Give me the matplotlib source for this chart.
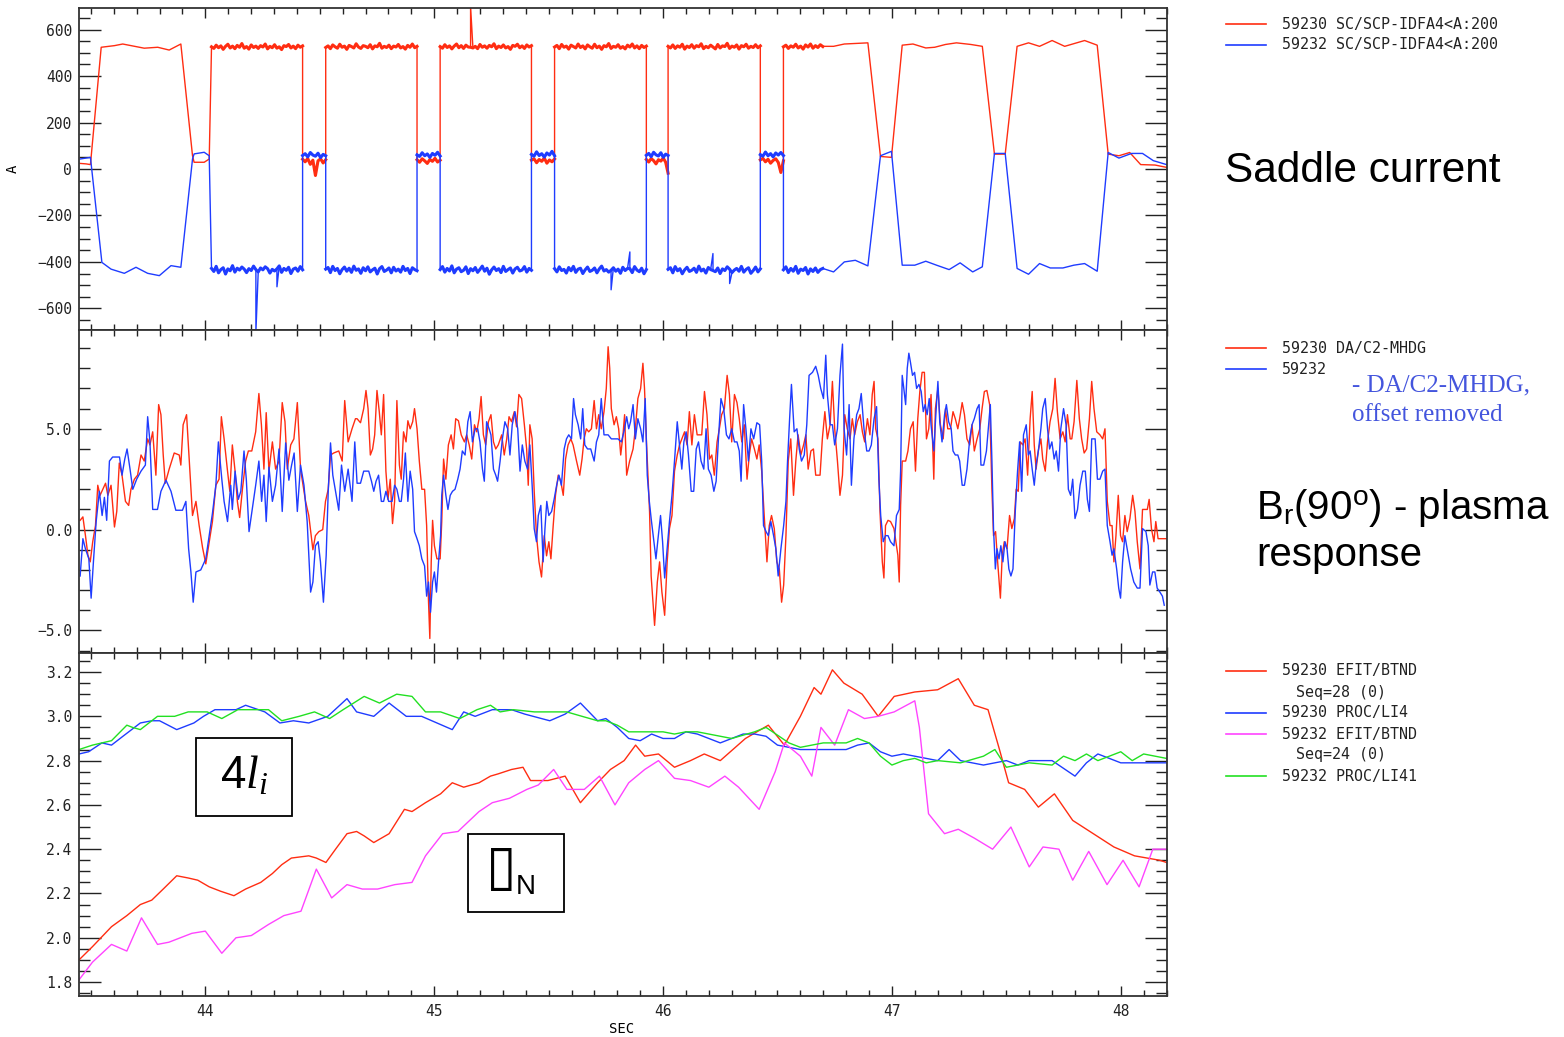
import numpy as np
import matplotlib.pyplot as plt
from matplotlib.lines import Line2D
from matplotlib.patches import Rectangle
from matplotlib.ticker import MultipleLocator

plt.rcParams['font.family'] = ['DejaVu Sans Mono']
plt.rcParams['mathtext.fontset'] = 'custom'
plt.rcParams['mathtext.rm'] = 'Liberation Sans'
plt.rcParams['mathtext.it'] = 'Liberation Serif:italic'

RED = '#ff2d12'
BLUE = '#1f3cff'
PINK = '#ff44ff'
GREEN = '#22e022'

# ---------------- saddle coil current (A) ----------------
# switching times of the square-wave part (on / off phases)
sc_edges = [44.027, 44.425, 44.526, 44.925, 45.026, 45.425, 45.526, 45.927,
            46.022, 46.425, 46.526, 46.698]

red_sc_head_t = [43.453, 43.479, 43.498, 43.545, 43.603, 43.639, 43.690, 43.733,
                 43.792, 43.842, 43.893, 43.944, 43.951, 43.995, 44.017]
red_sc_head = [24, 22, 19, 524, 531, 538, 528, 520, 524, 512, 538, 57, 29, 29, 43]
blue_sc_head_t = [43.453, 43.498, 43.548, 43.588, 43.646, 43.697, 43.748, 43.799,
                  43.850, 43.893, 43.944, 43.951, 43.995, 44.017]
blue_sc_head = [43, 50, -402, -431, -449, -423, -449, -459, -416, -423, 43, 65, 72, 57]

red_on1 = [526, 519, 533, 522, 530, 515, 528, 537, 521, 529, 518, 532, 524, 540, 520, 527,
           516, 534, 523, 529, 519, 531, 525, 538, 517, 528, 522, 535, 520, 526, 514, 531,
           527, 536, 521, 529, 518, 533, 524, 530]
red_off1 = [42, 31, 45, 20, 38, -28, 35, 44, 26, 40]
red_on2 = [523, 530, 518, 534, 526, 520, 537, 524, 529, 515, 532, 527, 521, 539, 525, 519,
           531, 528, 522, 535, 517, 530, 526, 541, 520, 528, 523, 533, 518, 529, 525, 536,
           521, 527, 516, 532, 524, 538, 522, 528]
red_off2 = [40, 29, 44, 35, 24, 41, 33, 46, 30, 38]
red_on3 = [527, 520, 535, 523, 530, 517, 529, 538, 522, 531, 519, 533, 525, 524, 521, 528,
           518, 536, 524, 530, 520, 532, 526, 539, 518, 529, 523, 534, 521, 527, 515, 532,
           528, 537, 522, 530, 519, 534, 525, 531]
red_off3 = [38, 44, 27, 41, 33, 47, 25, 39, 31, 43]
red_on4 = [525, 532, 518, 536, 524, 529, 516, 533, 527, 521, 538, 523, 530, 517, 534, 526,
           520, 537, 522, 529, 515, 531, 526, 540, 519, 528, 524, 535, 520, 527, 517, 533,
           525, 538, 521, 530, 518, 532, 523, 529]
red_off4 = [41, 30, 45, 36, 22, 40, 34, 47, 29, -18]
red_on5 = [528, 521, 534, 519, 530, 524, 537, 516, 529, 523, 535, 520, 531, 526, 539, 518,
           528, 522, 533, 525, 517, 536, 521, 530, 527, 541, 519, 529, 524, 534, 516, 531,
           526, 537, 520, 528, 523, 535, 522, 530]
red_off5 = [39, 46, 31, 42, 25, 37, 44, 28, -15, 35]
red_on6 = [526, 533, 519, 530, 524, 537, 521, 529, 516, 534, 525, 538, 520, 531, 523, 535, 527]

blue_on1 = [-428, -441, -419, -447, -433, -425, -452, -430, -438, -416, -444, -427, -435, -422,
            -431, -446, -429, -437, -418, -433, -443, -426, -434, -421, -429, -448, -432, -439,
            -430, -417, -445, -428, -436, -423, -450, -431, -426, -440, -420, -434]
blue_off1 = [58, 66, 52, 71, 60, 55, 68, 49, 63, 57]
blue_on2 = [-431, -424, -446, -419, -437, -428, -451, -433, -422, -440, -427, -445, -418, -436,
            -430, -449, -425, -438, -421, -443, -434, -427, -452, -429, -420, -441, -435, -426,
            -447, -423, -439, -431, -444, -419, -437, -428, -450, -425, -433, -438]
blue_off2 = [61, 54, 70, 57, 65, 50, 67, 59, 72, 56]
blue_on3 = [-433, -420, -444, -428, -439, -417, -447, -431, -425, -442, -436, -421, -450, -429,
            -438, -424, -445, -432, -418, -440, -427, -453, -434, -422, -437, -429, -446, -419,
            -441, -433, -426, -448, -430, -423, -439, -435, -420, -444, -428, -436]
blue_off3 = [63, 55, 74, 58, 66, 51, 69, 60, 76, 57]
blue_on4 = [-429, -443, -421, -437, -432, -448, -424, -438, -419, -445, -431, -427, -450, -434,
            -422, -441, -436, -426, -447, -430, -418, -439, -433, -444, -436, -425, -440, -431,
            -449, -423, -437, -428, -429, -446, -420, -435, -442, -427, -451, -433]
blue_off4 = [59, 67, 53, 72, 61, 56, 70, 50, 64, 58]
blue_on5 = [-432, -425, -447, -420, -438, -429, -451, -434, -423, -441, -436, -427, -445, -418,
            -439, -431, -448, -424, -433, -437, -442, -426, -450, -430, -437, -421, -431, -446,
            -435, -428, -440, -419, -444, -432, -425, -449, -437, -422, -443, -430]
blue_off5 = [62, 55, 73, 57, 66, 52, 69, 60, 71, 58]
blue_on6 = [-434, -421, -446, -428, -440, -419, -449, -431, -437, -424, -452, -430, -441, -426,
            -445, -433, -428]

# single-sample glitches on top of the square wave
red_glitch_t = [45.159]
red_glitch = [700]
blue_glitch_t = [44.221, 44.313, 45.773, 45.855, 46.218, 46.291]
blue_glitch = [-700, -507, -520, -357, -364, -493]

red_sc_tail_t = [46.698, 46.745, 46.792, 46.895, 46.950, 46.998, 47.045, 47.092, 47.148, 47.187,
                 47.234, 47.282, 47.345, 47.395, 47.448, 47.495, 47.547, 47.597, 47.645, 47.700,
                 47.755, 47.842, 47.897, 47.945, 47.992, 48.039, 48.087, 48.150, 48.200]
red_sc_tail = [528, 528, 538, 543, 54, 50, 533, 538, 521, 524, 536, 543, 536, 528, 64, 64,
               528, 543, 528, 553, 528, 553, 533, 64, 57, 71, 19, 17, 7]
blue_sc_tail_t = [46.698, 46.745, 46.792, 46.840, 46.895, 46.950, 46.998, 47.045, 47.100, 47.148,
                  47.195, 47.250, 47.298, 47.353, 47.395, 47.448, 47.495, 47.547, 47.597, 47.645,
                  47.692, 47.747, 47.795, 47.842, 47.897, 47.945, 47.992, 48.047, 48.095, 48.142,
                  48.200]
blue_sc_tail = [-428, -443, -400, -393, -417, 57, 76, -414, -414, -397, -414, -433, -404, -443,
                -421, 67, 67, -428, -453, -407, -426, -426, -414, -407, -440, 71, 47, 67, 67,
                36, 19]

# ---------------- Br(90) plasma response ----------------
br_red_t = [43.453, 43.465, 43.476, 43.487, 43.497, 43.508, 43.520, 43.530, 43.540, 43.552,
            43.564, 43.574, 43.588, 43.603, 43.613, 43.624, 43.636, 43.651, 43.665, 43.675,
            43.690, 43.704, 43.719, 43.733, 43.748, 43.758, 43.770, 43.784, 43.796, 43.806,
            43.816, 43.825, 43.842, 43.864, 43.886, 43.893, 43.903, 43.918, 43.930, 43.944,
            43.959, 43.973, 43.988, 44.002, 44.017, 44.031, 44.046, 44.060, 44.070, 44.082,
            44.097, 44.107, 44.118, 44.130, 44.140, 44.150, 44.162, 44.176, 44.188, 44.203,
            44.220, 44.234, 44.245, 44.256, 44.266, 44.278, 44.293, 44.307, 44.322, 44.336,
            44.348, 44.358, 44.373, 44.387, 44.402, 44.416, 44.438, 44.452, 44.470, 44.481,
            44.496, 44.513, 44.525, 44.537, 44.547, 44.561, 44.583, 44.598, 44.609, 44.624,
            44.641, 44.656,
            44.663, 44.678, 44.692, 44.702, 44.711, 44.721, 44.731, 44.740, 44.750, 44.760,
            44.769, 44.779, 44.789, 44.798, 44.808, 44.818, 44.827, 44.837, 44.848, 44.856,
            44.866, 44.877, 44.885, 44.895, 44.906, 44.914, 44.925, 44.935, 44.946, 44.958,
            44.967, 44.975, 44.981, 44.987, 44.993, 45.001, 45.012, 45.026, 45.033, 45.041,
            45.051, 45.062, 45.074, 45.084, 45.094, 45.106, 45.118, 45.132, 45.142, 45.153,
            45.164, 45.176, 45.186, 45.196, 45.205, 45.215, 45.225, 45.237, 45.248, 45.259,
            45.269, 45.280, 45.295, 45.306, 45.317, 45.327, 45.338, 45.350, 45.360, 45.370,
            45.382, 45.394, 45.404, 45.411, 45.418, 45.428, 45.437, 45.447, 45.458, 45.469,
            45.481, 45.491, 45.501, 45.510, 45.520, 45.530, 45.542, 45.553, 45.564, 45.574,
            45.585, 45.597, 45.607, 45.622, 45.636, 45.646, 45.655, 45.665, 45.675, 45.687,
            45.699, 45.709, 45.719, 45.730, 45.742, 45.752, 45.760, 45.767, 45.774, 45.786,
            45.796, 45.806, 45.815, 45.825, 45.832,
            45.841, 45.854, 45.869, 45.879, 45.890, 45.902, 45.912, 45.919, 45.927, 45.934,
            45.941, 45.948, 45.956, 45.963, 45.975, 45.985, 45.995, 46.007, 46.018, 46.028,
            46.039, 46.050, 46.062, 46.072, 46.082, 46.094, 46.105, 46.115, 46.126, 46.137,
            46.149, 46.159, 46.169, 46.181, 46.192, 46.203, 46.213, 46.224, 46.236, 46.246,
            46.256, 46.268, 46.280, 46.290, 46.300, 46.312, 46.323, 46.333, 46.344, 46.355,
            46.367, 46.377, 46.387, 46.399, 46.410, 46.420, 46.431, 46.442, 46.454, 46.464,
            46.474, 46.486, 46.497, 46.508, 46.518, 46.527, 46.537, 46.547, 46.558, 46.570,
            46.580, 46.590, 46.602, 46.614, 46.624, 46.634, 46.646, 46.657, 46.667, 46.678,
            46.686, 46.696, 46.707, 46.718, 46.730, 46.740, 46.750, 46.762, 46.773, 46.784,
            46.794, 46.805, 46.817, 46.827, 46.837, 46.849, 46.861, 46.871, 46.881, 46.893,
            46.904, 46.914, 46.922, 46.929, 46.939, 46.948, 46.958, 46.965, 46.972, 46.983,
            46.994, 47.009,
            47.026, 47.032, 47.038, 47.045, 47.060, 47.070, 47.081, 47.093, 47.103, 47.113,
            47.122, 47.132, 47.142, 47.151, 47.161, 47.171, 47.183, 47.190, 47.201, 47.212,
            47.224, 47.234, 47.244, 47.256, 47.267, 47.277, 47.288, 47.296, 47.307, 47.317,
            47.328, 47.340, 47.350, 47.360, 47.372, 47.384, 47.394, 47.404, 47.415, 47.427,
            47.437, 47.444, 47.453, 47.462, 47.474, 47.482, 47.491, 47.503, 47.514, 47.524,
            47.535, 47.543, 47.552, 47.561, 47.572, 47.582, 47.593, 47.604, 47.613, 47.622,
            47.630, 47.641, 47.651, 47.659, 47.670, 47.680, 47.691, 47.703, 47.713, 47.723,
            47.735, 47.747, 47.757, 47.767, 47.779, 47.786, 47.796, 47.808, 47.819, 47.829,
            47.840, 47.851, 47.863, 47.873, 47.883, 47.895, 47.909, 47.921, 47.931, 47.941,
            47.953, 47.962, 47.970, 47.979, 47.989, 47.999, 48.008, 48.018, 48.028, 48.040,
            48.052, 48.062, 48.072, 48.084, 48.095, 48.105, 48.116, 48.124, 48.134, 48.145,
            48.153, 48.163, 48.185, 48.198]
br_red = [0.46, 0.63, -0.28, -1.27, -1.6, -0.6, 0.2, 2.2, 1.7, 2.0,
          2.3, 1.7, 2.2, 0.13, 0.9, 3.3, 2.7, 1.4, 1.2, 2.0,
          2.5, 2.7, 3.7, 3.4, 4.5, 4.2, 4.85, 2.7, 6.2, 5.7,
          3.7, 2.3, 3.0, 3.8, 3.7, 3.2, 5.2, 5.7, 3.4, 0.7,
          1.4, 0.2, -0.9, -1.7, -0.6, 0.4, 2.2, 2.5, 5.6, 4.5,
          2.9, 1.9, 4.2, 2.9, 1.4, 0.6, 2.0, 3.4, 3.9, 3.9,
          4.85, 6.75, 5.2, 3.0, 5.8, 2.9, 4.35, 3.0, 3.4, 6.3,
          5.35, 3.0, 4.2, 4.5, 6.3, 3.0, 1.4, 0.7, -1.0, -0.3,
          -0.1, 0.0, 1.4, 2.0, 3.7, 3.8, 3.9, 3.4, 6.4, 4.35,
          5.0, 5.5,
          5.5, 5.3, 6.0, 6.9, 6.0, 3.7, 4.0, 4.7, 6.9, 5.85,
          4.7, 6.7, 2.9, 1.5, 2.5, 0.3, 1.4, 6.4, 3.2, 2.5,
          4.85, 4.35, 5.4, 5.0, 5.35, 6.0, 5.0, 3.4, 2.0, 2.0,
          0.2, -3.5, -5.4, -1.6, 0.46, -0.8, -1.45, -1.45, 0.4, 3.5,
          2.5, 4.2, 4.7, 4.0, 5.5, 5.4, 4.7, 4.35, 4.7, 4.2,
          3.5, 5.2, 4.85, 5.5, 6.6, 4.7, 4.2, 5.35, 5.7, 4.35,
          4.0, 4.2, 4.7, 3.7, 4.5, 5.6, 5.35, 5.85, 5.1, 6.7,
          6.5, 5.2, 4.0, 2.2, 5.2, 4.5, 1.9, -0.3, -1.6, -2.35,
          -0.3, -1.3, -0.6, -1.45, 0.2, 1.7, 2.7, 2.4, 1.7, 3.5,
          4.2, 4.5, 4.2, 3.4, 2.7, 3.5, 4.5, 5.0, 4.85, 5.0,
          6.4, 5.0, 5.7, 5.0, 5.85, 7.0, 9.07, 8.0, 6.0, 5.2,
          5.6, 5.0, 3.7, 4.7, 5.7,
          2.7, 3.4, 4.0, 5.0, 6.5, 7.0, 8.25, 7.0, 4.5, 2.7,
          0.9, -2.3, -3.6, -4.75, -2.6, -1.6, -3.1, -4.25, -1.6, 0.05,
          0.7, 2.9, 3.7, 4.2, 4.5, 4.85, 4.2, 5.85, 4.2, 5.7,
          4.7, 4.7, 4.7, 6.85, 5.7, 3.5, 3.7, 2.7, 4.35, 5.0,
          5.7, 6.0, 7.65, 6.7, 4.35, 6.7, 6.3, 5.5, 4.35, 5.2,
          2.5, 3.7, 4.5, 4.0, 3.5, 4.2, 2.9, 0.7, -1.6, 0.2,
          0.7, 0.05, -1.6, -1.95, -3.6, -2.75, -0.3, 3.4, 4.5, 1.7,
          3.4, 4.7, 3.7, 4.2, 4.7, 3.0, 3.9, 4.0, 2.7, 2.7,
          2.7, 4.5, 5.85, 4.5, 5.2, 7.35, 5.0, 3.4, 1.7, 2.7,
          5.7, 5.0, 4.5, 5.5, 4.7, 5.35, 5.7, 4.85, 4.35, 5.5,
          4.7, 6.7, 7.35, 5.0, 4.5, 0.9, -1.6, -2.4, 0.2, 0.46,
          0.4, 0.05,
          -1.27, -2.6, 1.2, 3.4, 3.4, 3.9, 5.0, 5.35, 2.9, 5.5,
          6.85, 7.8, 7.8, 4.5, 5.0, 6.7, 2.5, 6.0, 7.0, 5.2,
          4.5, 6.0, 5.0, 5.0, 5.85, 5.5, 5.0, 5.5, 6.3, 5.7,
          4.5, 4.2, 5.2, 3.9, 4.5, 5.0, 6.0, 6.85, 6.9, 6.2,
          2.0, -0.3, -0.1, -1.6, -3.4, -1.27, -0.6, -0.95, 0.7, 0.05,
          0.55, 2.0, 1.9, 4.35, 4.2, 4.5, 2.7, 5.5, 6.85, 4.2,
          3.0, 4.0, 4.5, 3.5, 2.9, 4.35, 5.35, 6.0, 7.5, 5.85,
          4.5, 4.85, 4.35, 5.7, 4.5, 4.5, 5.35, 7.4, 5.5, 4.5,
          3.8, 4.0, 5.5, 7.35, 6.0, 4.85, 4.7, 4.5, 5.0, 1.4,
          0.2, 0.2, -1.6, -0.3, 1.7, -0.3, -0.6, 0.7, -0.1, 0.55,
          1.7, 0.9, -0.6, -1.95, 1.0, 1.0, 1.0, 1.5, 0.05, -0.6,
          0.4, -0.45, -0.45, -0.45]

br_blue_t = [43.453, 43.465, 43.476, 43.491, 43.501, 43.511, 43.523, 43.537, 43.549, 43.559,
             43.569, 43.581, 43.595, 43.625, 43.636, 43.648, 43.658, 43.671, 43.683, 43.700,
             43.719, 43.738, 43.748, 43.758, 43.770, 43.791, 43.806, 43.828, 43.850, 43.871,
             43.900, 43.915, 43.927, 43.937, 43.947, 43.959, 43.980, 44.002, 44.017, 44.031,
             44.046, 44.057, 44.072, 44.082, 44.097, 44.111, 44.118, 44.130, 44.144, 44.155,
             44.169, 44.179, 44.191, 44.205, 44.220, 44.234, 44.246, 44.256, 44.266, 44.278,
             44.293, 44.307, 44.322, 44.336, 44.351, 44.365, 44.377, 44.388, 44.402, 44.416,
             44.431, 44.445, 44.460, 44.470, 44.481, 44.493, 44.503, 44.516, 44.528, 44.537,
             44.547, 44.557, 44.569, 44.583, 44.595, 44.609, 44.624, 44.641, 44.653,
             44.663, 44.678, 44.692, 44.714, 44.726, 44.736, 44.746, 44.757, 44.769, 44.779,
             44.789, 44.801, 44.816, 44.827, 44.837, 44.848, 44.856, 44.866, 44.874, 44.885,
             44.895, 44.906, 44.914, 44.925, 44.935, 44.946, 44.958, 44.967, 44.975, 44.984,
             44.993, 45.001, 45.010, 45.019, 45.028, 45.033, 45.041, 45.051, 45.060, 45.070,
             45.080, 45.091, 45.103, 45.113, 45.123, 45.135, 45.147, 45.157, 45.167, 45.179,
             45.190, 45.200, 45.211, 45.219, 45.229, 45.240, 45.248, 45.259, 45.269, 45.277,
             45.288, 45.298, 45.309, 45.321, 45.331, 45.341, 45.353, 45.365, 45.375, 45.385,
             45.396, 45.408, 45.418, 45.428, 45.437, 45.447, 45.455, 45.466, 45.476, 45.484,
             45.492, 45.501, 45.513, 45.524, 45.535, 45.545, 45.556, 45.568, 45.578, 45.588,
             45.600, 45.609, 45.617, 45.629, 45.640, 45.649, 45.658, 45.670, 45.684, 45.699,
             45.709, 45.719, 45.730, 45.742, 45.760, 45.774, 45.789, 45.803, 45.818, 45.832,
             45.841, 45.850, 45.858, 45.869, 45.879, 45.890, 45.902, 45.912, 45.922, 45.931,
             45.940, 45.948, 45.960, 45.969, 45.978, 45.989, 45.998, 46.007, 46.018, 46.028,
             46.039, 46.050, 46.062, 46.072, 46.082, 46.091, 46.101, 46.111, 46.123, 46.134,
             46.145, 46.155, 46.166, 46.178, 46.188, 46.198, 46.210, 46.222, 46.232, 46.242,
             46.253, 46.265, 46.277, 46.288, 46.300, 46.312, 46.323, 46.333, 46.341, 46.352,
             46.362, 46.373, 46.384, 46.396, 46.410, 46.422, 46.431, 46.439, 46.450, 46.460,
             46.471, 46.483, 46.493, 46.503, 46.515, 46.527, 46.537, 46.544, 46.553, 46.561,
             46.573, 46.585, 46.595, 46.605, 46.617, 46.628, 46.638, 46.653, 46.667, 46.678,
             46.689, 46.701, 46.711, 46.718, 46.730, 46.740, 46.750, 46.762, 46.773, 46.784,
             46.791, 46.802, 46.813, 46.823, 46.834, 46.846, 46.856, 46.866, 46.878, 46.890,
             46.900, 46.910, 46.922, 46.933, 46.943, 46.951, 46.962, 46.972, 46.983, 46.994,
             47.009,
             47.020, 47.032, 47.038, 47.045, 47.052, 47.060, 47.067, 47.074, 47.081, 47.090,
             47.099, 47.108, 47.118, 47.128, 47.137, 47.145, 47.154, 47.163, 47.171, 47.183,
             47.192, 47.201, 47.209, 47.219, 47.230, 47.238, 47.248, 47.259, 47.267, 47.277,
             47.288, 47.296, 47.307, 47.317, 47.328, 47.340, 47.350, 47.360, 47.372, 47.381,
             47.389, 47.401, 47.413, 47.421, 47.430, 47.437, 47.444, 47.452, 47.459, 47.468,
             47.476, 47.485, 47.494, 47.503, 47.511, 47.520, 47.529, 47.539, 47.549, 47.558,
             47.567, 47.575, 47.587, 47.596, 47.604, 47.613, 47.622, 47.630, 47.641, 47.651,
             47.659, 47.670, 47.680, 47.689, 47.699, 47.709, 47.718, 47.728, 47.738, 47.750,
             47.761, 47.771, 47.781, 47.790, 47.800, 47.811, 47.822, 47.834, 47.845, 47.854,
             47.863, 47.873, 47.888, 47.898, 47.909, 47.921, 47.931, 47.941, 47.953, 47.962,
             47.970, 47.982, 47.991, 47.999, 48.008, 48.018, 48.028, 48.043, 48.057, 48.072,
             48.084, 48.095, 48.110, 48.120, 48.127, 48.139, 48.149, 48.159, 48.171, 48.182,
             48.190]
br_blue = [-2.3, -0.45, -0.95, -1.45, -3.4, -1.6, 0.4, 1.9, 0.7, 1.6,
           0.46, 3.4, 3.6, 3.6, 2.7, 3.5, 4.0, 3.0, 2.0, 2.5,
           2.9, 3.2, 5.6, 4.35, 1.0, 1.0, 1.9, 2.45, 1.9, 0.96,
           0.96, 1.4, -0.95, -2.1, -3.6, -2.1, -2.0, -1.45, -0.3, 0.8,
           2.2, 4.35, 2.5, 1.4, 0.4, 2.2, 1.0, 2.9, 1.5, 1.9,
           3.9, 2.5, -0.1, 1.0, 2.2, 3.4, 1.4, 2.7, 0.4, 3.1,
           1.4, 2.2, 4.0, 0.9, 4.3, 2.45, 3.2, 3.8, 0.9, 3.2,
           2.2, 0.4, -3.1, -2.6, -0.8, -0.6, -1.6, -3.6, -1.3, 1.9,
           4.3, 2.7, 1.9, 0.96, 3.2, 1.9, 3.0, 1.4, 4.35,
           2.3, 2.3, 2.9, 2.9, 2.4, 1.9, 2.4, 2.7, 1.4, 1.4,
           1.9, 1.4, 1.4, 2.2, 2.0, 1.4, 1.4, 2.5, 3.8, 1.4,
           2.9, 2.0, -0.1, -0.45, -0.8, -1.45, -1.8, -3.3, -2.6, -4.1,
           -2.6, -2.1, -3.1, -1.6, -0.3, 1.7, 2.7, 1.7, 1.0, 1.7,
           1.9, 2.0, 2.5, 3.0, 3.9, 3.7, 5.35, 5.85, 4.35, 5.0,
           5.0, 4.35, 3.0, 2.4, 5.35, 5.0, 4.7, 3.0, 2.7, 2.4,
           3.4, 4.5, 5.35, 5.0, 3.7, 5.2, 5.85, 5.0, 2.9, 4.2,
           3.4, 3.0, 4.2, 2.2, 0.05, -0.6, 0.7, 1.2, -1.6, 0.05,
           1.4, 0.7, 0.9, 1.5, 2.2, 2.7, 2.2, 4.0, 4.5, 4.7,
           4.5, 6.5, 5.7, 5.2, 4.5, 6.0, 4.2, 4.0, 4.0, 3.4,
           4.35, 4.7, 6.5, 4.7, 4.7, 4.5, 4.5, 4.5, 4.35, 5.0,
           5.6, 5.0, 5.35, 6.2, 4.5, 5.5, 5.0, 4.35, 6.5, 2.7,
           1.4, 0.55, -0.6, -1.45, -0.45, 0.7, -0.6, -2.4, -0.95, 0.4,
           1.7, 3.4, 5.35, 4.2, 3.0, 4.35, 4.85, 3.7, 1.9, 1.9,
           4.0, 4.35, 3.4, 3.0, 5.0, 3.0, 2.7, 1.9, 2.4, 4.5,
           6.5, 6.0, 4.7, 4.5, 5.0, 4.35, 4.35, 3.9, 2.4, 6.2,
           5.0, 3.4, 5.0, 4.5, 5.3, 5.2, 3.4, 0.2, -0.1, -0.3,
           0.4, -0.3, -0.95, -2.3, -0.95, 0.2, 1.4, 3.4, 5.5, 7.2,
           4.85, 5.0, 4.0, 3.4, 3.7, 5.2, 7.65, 7.8, 8.1, 7.65,
           7.0, 6.5, 8.65, 6.7, 5.2, 5.2, 4.2, 5.0, 7.65, 9.2,
           5.0, 3.7, 6.2, 2.2, 4.5, 5.7, 6.0, 6.75, 5.0, 3.9,
           3.9, 4.2, 5.5, 6.1, 2.5, 0.7, -0.6, -0.3, -0.3, -0.6,
           -0.8,
           0.7, 1.0, 2.9, 7.65, 7.0, 6.2, 8.0, 8.75, 8.3, 7.65,
           7.8, 7.0, 7.2, 6.85, 5.85, 6.2, 5.7, 6.5, 5.2, 3.9,
           5.7, 7.35, 5.35, 4.35, 5.7, 6.2, 5.35, 5.0, 3.9, 3.7,
           3.7, 3.4, 2.2, 2.2, 3.0, 4.5, 5.2, 5.5, 6.0, 6.2,
           3.2, 3.2, 3.9, 5.0, 6.2, 3.4, 0.05, -1.95, -0.95, -1.45,
           -0.8, -1.6, -0.6, -0.95, -1.95, -2.3, -1.95, 0.9, 2.9, 4.35,
           1.9, 4.7, 5.2, 3.7, 3.9, 3.0, 2.2, 3.2, 4.0, 5.0,
           6.0, 6.5, 5.0, 4.0, 4.35, 3.5, 3.9, 2.9, 5.0, 6.0,
           5.2, 2.0, 1.7, 2.5, 0.55, 1.0, 2.2, 2.9, 2.9, 1.5,
           0.9, 4.5, 4.5, 2.5, 2.5, 2.9, 3.0, 0.2, -0.6, -1.27,
           -0.95, -1.95, -2.9, -3.4, -1.6, -0.3, -0.95, -1.95, -2.6, -2.9,
           -2.9, 0.05, -0.1, -0.8, -2.75, -2.1, -2.1, -2.9, -3.1, -3.3,
           -3.75]

# ---------------- beta_N and 4 li ----------------
bn_red_t = [43.448, 43.507, 43.590, 43.657, 43.716, 43.766, 43.816, 43.875, 43.925, 43.967,
            44.017, 44.067, 44.125, 44.176, 44.242, 44.293, 44.334, 44.376, 44.452, 44.485,
            44.527, 44.569, 44.619, 44.661, 44.694, 44.736, 44.803, 44.870, 44.903, 44.962,
            45.028, 45.079, 45.129, 45.196, 45.246, 45.279, 45.338, 45.388, 45.421, 45.497,
            45.572, 45.639, 45.714, 45.77, 45.83, 45.88, 45.92, 45.98, 46.05, 46.12,
            46.18, 46.25, 46.36, 46.46, 46.53, 46.60, 46.66, 46.69, 46.74, 46.79,
            46.87, 46.94, 47.01, 47.10, 47.20, 47.29, 47.36, 47.42, 47.47, 47.51,
            47.58, 47.64, 47.71, 47.79, 47.88, 47.97, 48.06, 48.17, 48.20]
bn_red = [1.90, 1.96, 2.05, 2.10, 2.15, 2.17, 2.22, 2.28, 2.27, 2.26,
          2.23, 2.21, 2.19, 2.22, 2.25, 2.29, 2.33, 2.36, 2.37, 2.36,
          2.34, 2.40, 2.47, 2.48, 2.46, 2.43, 2.47, 2.58, 2.57, 2.61,
          2.65, 2.70, 2.68, 2.70, 2.73, 2.74, 2.76, 2.77, 2.71, 2.71,
          2.73, 2.61, 2.70, 2.76, 2.80, 2.87, 2.82, 2.83, 2.77, 2.80,
          2.83, 2.80, 2.90, 2.96, 2.87, 3.00, 3.13, 3.10, 3.21, 3.15,
          3.10, 3.00, 3.09, 3.11, 3.12, 3.17, 3.05, 3.03, 2.85, 2.70,
          2.67, 2.59, 2.65, 2.53, 2.47, 2.41, 2.37, 2.35, 2.34]

li_blue_t = [43.448, 43.49, 43.548, 43.59, 43.64, 43.716, 43.766, 43.80, 43.875, 43.95,
             43.992, 44.042, 44.134, 44.176, 44.26, 44.326, 44.385, 44.452, 44.535, 44.619,
             44.661, 44.736, 44.803, 44.878, 44.945, 45.079, 45.129, 45.179, 45.254, 45.338,
             45.396, 45.505, 45.572, 45.639, 45.714, 45.75, 45.80, 45.85, 45.90, 45.95,
             46.00, 46.05, 46.10, 46.15, 46.20, 46.25, 46.30, 46.35, 46.40, 46.45,
             46.50, 46.60, 46.70, 46.80, 46.85, 46.90, 46.95, 47.00, 47.05, 47.10,
             47.20, 47.25, 47.30, 47.40, 47.45, 47.50, 47.55, 47.60, 47.70, 47.80,
             47.85, 47.90, 48.00, 48.10, 48.20]
li_blue = [2.83, 2.84, 2.88, 2.87, 2.91, 2.97, 2.98, 2.98, 2.94, 2.97,
           3.00, 3.03, 3.03, 3.05, 3.02, 2.97, 2.98, 2.97, 3.00, 3.08,
           3.02, 3.00, 3.06, 3.00, 3.00, 2.94, 3.02, 3.00, 3.03, 3.03,
           3.01, 2.98, 3.01, 3.06, 2.98, 2.99, 2.95, 2.90, 2.89, 2.92,
           2.90, 2.90, 2.93, 2.92, 2.90, 2.88, 2.90, 2.92, 2.92, 2.91,
           2.87, 2.85, 2.85, 2.85, 2.87, 2.88, 2.84, 2.82, 2.83, 2.82,
           2.80, 2.85, 2.80, 2.78, 2.79, 2.80, 2.78, 2.80, 2.80, 2.73,
           2.79, 2.83, 2.79, 2.79, 2.79]

bn_pink_t = [43.448, 43.507, 43.590, 43.657, 43.721, 43.791, 43.841, 43.891, 43.941, 44.000,
             44.072, 44.134, 44.201, 44.276, 44.343, 44.418, 44.485, 44.552, 44.619, 44.686,
             44.753, 44.828, 44.903, 44.962, 45.037, 45.104, 45.196, 45.254, 45.329, 45.405,
             45.455, 45.522, 45.580, 45.656, 45.722, 45.79, 45.85, 45.92, 45.98, 46.05,
             46.12, 46.20, 46.27, 46.33, 46.42, 46.49, 46.53, 46.60, 46.65, 46.69,
             46.75, 46.81, 46.88, 46.94, 47.01, 47.10, 47.12, 47.16, 47.23, 47.29,
             47.36, 47.44, 47.52, 47.60, 47.66, 47.73, 47.79, 47.86, 47.94, 48.01,
             48.08, 48.14, 48.20]
bn_pink = [1.81, 1.89, 1.97, 1.94, 2.09, 1.97, 1.98, 2.00, 2.02, 2.03,
           1.93, 2.00, 2.01, 2.06, 2.10, 2.12, 2.31, 2.18, 2.24, 2.22,
           2.22, 2.24, 2.25, 2.37, 2.47, 2.48, 2.57, 2.61, 2.63, 2.67,
           2.69, 2.76, 2.67, 2.67, 2.73, 2.60, 2.70, 2.76, 2.80, 2.72,
           2.71, 2.68, 2.73, 2.68, 2.58, 2.75, 2.88, 2.82, 2.73, 2.95,
           2.87, 3.03, 2.99, 3.00, 3.02, 3.07, 2.95, 2.56, 2.47, 2.49,
           2.45, 2.40, 2.50, 2.32, 2.41, 2.40, 2.26, 2.39, 2.24, 2.35,
           2.23, 2.40, 2.40]

li_green_t = [43.448, 43.507, 43.59, 43.657, 43.682, 43.716, 43.791, 43.866, 43.925, 44.008,
              44.072, 44.142, 44.209, 44.276, 44.334, 44.41, 44.477, 44.543, 44.602, 44.694,
              44.761, 44.836, 44.903, 44.962, 45.028, 45.112, 45.187, 45.246, 45.288, 45.346,
              45.438, 45.512, 45.579, 45.646, 45.714, 45.75, 45.80, 45.85, 45.90, 46.00,
              46.05, 46.10, 46.15, 46.20, 46.30, 46.40, 46.45, 46.55, 46.60, 46.70,
              46.80, 46.85, 46.90, 46.95, 47.00, 47.05, 47.10, 47.15, 47.20, 47.30,
              47.40, 47.45, 47.50, 47.60, 47.70, 47.75, 47.80, 47.85, 47.90, 48.00,
              48.05, 48.10, 48.20]
li_green = [2.85, 2.87, 2.89, 2.96, 2.95, 2.94, 3.00, 3.00, 3.02, 3.02,
            2.99, 3.03, 3.03, 3.03, 2.98, 3.00, 3.02, 2.99, 3.03, 3.09,
            3.06, 3.10, 3.09, 3.02, 3.02, 2.99, 3.03, 3.05, 3.02, 3.03,
            3.02, 3.02, 3.02, 3.00, 2.98, 2.98, 2.96, 2.93, 2.93, 2.93,
            2.92, 2.93, 2.93, 2.92, 2.90, 2.93, 2.95, 2.88, 2.86, 2.88,
            2.88, 2.90, 2.88, 2.82, 2.78, 2.80, 2.81, 2.79, 2.80, 2.79,
            2.82, 2.85, 2.77, 2.79, 2.78, 2.82, 2.80, 2.83, 2.80, 2.84,
            2.80, 2.83, 2.81]

red_blocks = [red_on1, red_off1, red_on2, red_off2, red_on3, red_off3,
              red_on4, red_off4, red_on5, red_off5, red_on6]
blue_blocks = [blue_on1, blue_off1, blue_on2, blue_off2, blue_on3, blue_off3,
               blue_on4, blue_off4, blue_on5, blue_off5, blue_on6]


def block_times(i, blk):
    return np.linspace(sc_edges[i], sc_edges[i + 1], len(blk))


def stitch(head_t, head_v, blocks, tail_t, tail_v, glitch_t, glitch_v):
    # join the slow parts, the fast-sampled square-wave blocks and the glitches
    t = [np.array(head_t)]
    v = [np.array(head_v, dtype=float)]
    for i, blk in enumerate(blocks):
        t.append(block_times(i, blk))
        v.append(np.array(blk, dtype=float))
    t += [np.array(tail_t), np.array(glitch_t)]
    v += [np.array(tail_v, dtype=float), np.array(glitch_v, dtype=float)]
    t, v = np.concatenate(t), np.concatenate(v)
    order = np.argsort(t, kind='stable')
    return t[order], v[order]


red_sc_t, red_sc = stitch(red_sc_head_t, red_sc_head, red_blocks, red_sc_tail_t, red_sc_tail,
                          red_glitch_t, red_glitch)
blue_sc_t, blue_sc = stitch(blue_sc_head_t, blue_sc_head, blue_blocks, blue_sc_tail_t,
                            blue_sc_tail, blue_glitch_t, blue_glitch)

W, H = 1564, 1037
fig = plt.figure(figsize=(W / 100, H / 100), dpi=100)

left, width = 79 / W, 1088 / W
ax1 = fig.add_axes([left, 1 - 330 / H, width, 322 / H])
ax2 = fig.add_axes([left, 1 - 653 / H, width, 323 / H], sharex=ax1)
ax3 = fig.add_axes([left, 1 - 996 / H, width, 343 / H], sharex=ax1)

ax1.plot(red_sc_t, red_sc, color=RED, lw=1.0)
for i, blk in enumerate(red_blocks):
    # fast sampled stretches show up as a thick noisy band
    ax1.plot(block_times(i, blk), blk, color=RED, lw=2.2)
ax1.plot(blue_sc_t, blue_sc, color=BLUE, lw=1.0)
for i, blk in enumerate(blue_blocks):
    ax1.plot(block_times(i, blk), blk, color=BLUE, lw=2.2)
ax1.set_ylim(-693, 693)
ax1.yaxis.set_major_locator(MultipleLocator(200))
ax1.yaxis.set_minor_locator(MultipleLocator(50))
ax1.set_ylabel('A', fontsize=10)
ax1.yaxis.set_label_coords(-0.054, 0.5)

ax2.plot(br_red_t, br_red, color=RED, lw=1.0)
ax2.plot(br_blue_t, br_blue, color=BLUE, lw=1.0)
ax2.set_ylim(-6.12, 9.9)
ax2.yaxis.set_major_locator(MultipleLocator(5))
ax2.yaxis.set_minor_locator(MultipleLocator(1))
ax2.yaxis.set_major_formatter('{x:.1f}')

ax3.plot(bn_red_t, bn_red, color=RED, lw=1.0)
ax3.plot(li_blue_t, li_blue, color=BLUE, lw=1.0)
ax3.plot(bn_pink_t, bn_pink, color=PINK, lw=1.0)
ax3.plot(li_green_t, li_green, color=GREEN, lw=1.0)
ax3.set_ylim(1.737, 3.286)
ax3.yaxis.set_major_locator(MultipleLocator(0.2))
ax3.yaxis.set_minor_locator(MultipleLocator(0.05))
ax3.yaxis.set_major_formatter('{x:.1f}')
ax3.set_xlabel('SEC', fontsize=10)
ax3.xaxis.set_label_coords(0.499, -0.075)

ax3.set_xlim(43.448, 48.202)
ax3.xaxis.set_major_locator(MultipleLocator(1))
ax3.xaxis.set_minor_locator(MultipleLocator(0.1))
ax3.xaxis.set_major_formatter('{x:.0f}')

for ax in (ax1, ax2, ax3):
    ax.tick_params(which='both', direction='in', top=True, right=True,
                   labelsize=10.5, colors='#222222', width=1.0)
    ax.tick_params(axis='y', which='major', length=16, pad=5)
    ax.tick_params(axis='y', which='minor', length=8)
    ax.tick_params(axis='x', which='major', length=7, pad=6)
    ax.tick_params(axis='x', which='minor', length=4)
    for s in ax.spines.values():
        s.set_linewidth(1.3)
        s.set_color('#333333')
for ax in (ax1, ax2):
    ax.tick_params(axis='x', labelbottom=False)


def legend_rows(rows, y0):
    for i, (label, color) in enumerate(rows):
        y = 1 - (y0 + 21 * i) / H
        x_text = 1282 / W
        if color:
            fig.add_artist(Line2D([1226 / W, 1266 / W], [y, y], color=color, lw=1.2))
        else:
            x_text = 1296 / W
        fig.text(x_text, y, label, va='center', ha='left', fontsize=10.8, color='#222222')


legend_rows([('59230 SC/SCP-IDFA4<A:200', RED), ('59232 SC/SCP-IDFA4<A:200', BLUE)], 24)
legend_rows([('59230 DA/C2-MHDG', RED), ('59232', BLUE)], 348)
legend_rows([('59230 EFIT/BTND', RED), ('Seq=28 (0)', None), ('59230 PROC/LI4', BLUE),
             ('59232 EFIT/BTND', PINK), ('Seq=24 (0)', None), ('59232 PROC/LI41', GREEN)], 671)

fig.text(1225 / W, 1 - 182 / H, 'Saddle current', family='Liberation Sans', fontsize=30.5,
         va='baseline', ha='left')
fig.text(1256 / W, 1 - 519 / H, r'B$_\mathregular{r}$(90$^\mathregular{o}$) - plasma',
         family='Liberation Sans', fontsize=29, va='baseline', ha='left')
fig.text(1256 / W, 1 - 566 / H, 'response', family='Liberation Sans', fontsize=29,
         va='baseline', ha='left')
fig.text(1352 / W, 1 - 391 / H, '- DA/C2-MHDG,', family='Liberation Serif', fontsize=18,
         color='#4455dd', va='baseline', ha='left')
fig.text(1352 / W, 1 - 421 / H, 'offset removed', family='Liberation Serif', fontsize=18,
         color='#4455dd', va='baseline', ha='left')

# boxed labels on the lower panel
fig.add_artist(Rectangle((196 / W, 1 - 816 / H), 96 / W, 78 / H, fill=False, lw=1.3,
                         ec='black', transform=fig.transFigure))
fig.text(244 / W, 1 - 777 / H, r'4$\mathit{l_i}$', family='Liberation Sans', fontsize=33,
         va='center', ha='center')
fig.add_artist(Rectangle((468 / W, 1 - 912 / H), 96 / W, 78 / H, fill=False, lw=1.3,
                         ec='black', transform=fig.transFigure))
fig.text(501 / W, 1 - 869 / H, '\u25af', family='DejaVu Sans', fontsize=40,
         va='center', ha='center')
fig.text(526 / W, 1 - 887 / H, 'N', family='Liberation Sans', fontsize=20,
         va='center', ha='center')

fig.savefig('out.png', dpi=100)
